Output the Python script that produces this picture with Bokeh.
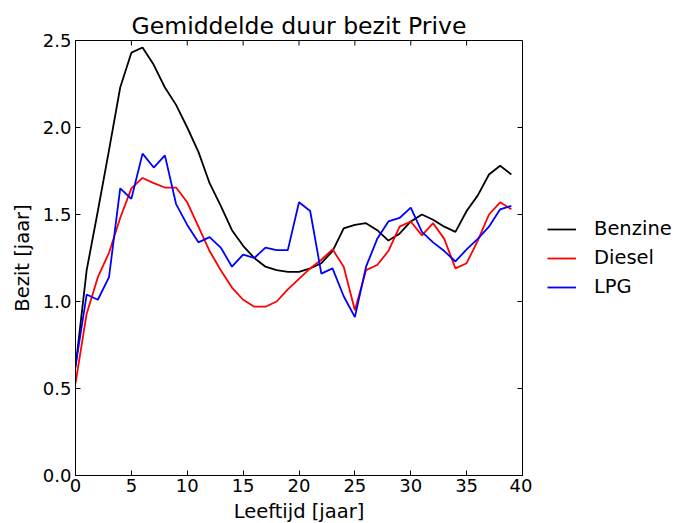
from bokeh.plotting import figure
from bokeh.layouts import row
from bokeh.models import (Range1d, FixedTicker, PrintfTickFormatter,
                          Legend, LegendItem)
from bokeh.embed import file_html
from bokeh.resources import INLINE

# ---- data ----
leeftijd = list(range(40))
benzine = [0.62, 1.18, 1.52, 1.87, 2.23, 2.43, 2.46, 2.36, 2.23, 2.13,
           2.00, 1.86, 1.68, 1.55, 1.41, 1.32, 1.25, 1.20, 1.18, 1.17,
           1.17, 1.19, 1.22, 1.29, 1.42, 1.44, 1.45, 1.41, 1.35, 1.39,
           1.46, 1.50, 1.47, 1.43, 1.40, 1.52, 1.61, 1.73, 1.78, 1.73]
diesel = [0.53, 0.93, 1.14, 1.28, 1.48, 1.65, 1.71, 1.68, 1.655, 1.655,
          1.57, 1.43, 1.29, 1.18, 1.08, 1.01, 0.97, 0.97, 1.00, 1.07,
          1.13, 1.19, 1.24, 1.30, 1.20, 0.95, 1.18, 1.21, 1.29, 1.43,
          1.46, 1.38, 1.45, 1.36, 1.19, 1.22, 1.35, 1.50, 1.57, 1.53]
lpg = [0.63, 1.04, 1.01, 1.14, 1.65, 1.59, 1.85, 1.77, 1.84, 1.56,
       1.44, 1.34, 1.37, 1.31, 1.20, 1.27, 1.25, 1.31, 1.295, 1.295,
       1.57, 1.52, 1.16, 1.19, 1.03, 0.91, 1.20, 1.36, 1.46, 1.48,
       1.54, 1.40, 1.34, 1.29, 1.23, 1.30, 1.36, 1.43, 1.53, 1.55]
series_names = ["Benzine", "Diesel", "LPG"]
series_colors = ["#000000", "#ff0000", "#0000ff"]
x_ticks = [0, 5, 10, 15, 20, 25, 30, 35, 40]
y_ticks = [0.0, 0.5, 1.0, 1.5, 2.0, 2.5]

FONT = "DejaVu Sans"
TICK_FS = "18px"
LABEL_FS = "19.5px"
FW, FH = 447, 435
X0, X1, Y0, Y1 = 0, 40, 0, 2.5
TOTAL_H = 523
MAIN_W = 532
LEG_W = 144

p = figure(frame_width=FW, frame_height=FH,
           x_range=Range1d(X0, X1), y_range=Range1d(Y0, Y1),
           output_backend="svg", toolbar_location=None,
           title="Gemiddelde duur bezit Prive",
           x_axis_label="Leeftijd [jaar]", y_axis_label="Bezit [jaar]",
           min_border_left=75, min_border_top=40, min_border_bottom=48,
           min_border_right=MAIN_W - 75 - FW)

p.title.text_font = FONT
p.title.text_font_size = "23.5px"
p.title.text_font_style = "normal"
p.title.text_color = "black"
p.title.align = "center"
p.title.standoff = 1

p.xgrid.visible = False
p.ygrid.visible = False
p.outline_line_color = "black"
p.outline_line_width = 1
p.background_fill_color = "white"
p.border_fill_color = "white"

p.xaxis.ticker = FixedTicker(ticks=x_ticks)
p.yaxis.ticker = FixedTicker(ticks=y_ticks)
p.yaxis.formatter = PrintfTickFormatter(format="%.1f")

for ax in [p.xaxis[0], p.yaxis[0]]:
    ax.major_tick_in = 5
    ax.major_tick_out = 0
    ax.minor_tick_in = 0
    ax.minor_tick_out = 0
    ax.major_label_text_font = FONT
    ax.major_label_text_font_size = TICK_FS
    ax.major_label_text_color = "black"
    ax.axis_label_text_font = FONT
    ax.axis_label_text_font_size = LABEL_FS
    ax.axis_label_text_font_style = "normal"
    ax.axis_label_text_color = "black"
    ax.axis_line_color = "black"
    ax.major_tick_line_color = "black"

p.xaxis.major_label_standoff = 3
p.xaxis.axis_label_standoff = 5
p.yaxis.major_label_standoff = 4
p.yaxis.axis_label_standoff = 6

# inward ticks on top and right edges (matplotlib classic look)
tick_px = 5
dy = tick_px * (Y1 - Y0) / FH
dx = tick_px * (X1 - X0) / FW
p.segment(x0=x_ticks, y0=[Y1] * len(x_ticks), x1=x_ticks, y1=[Y1 - dy] * len(x_ticks),
          line_color="black", line_width=1)
p.segment(x0=[X1] * len(y_ticks), y0=y_ticks, x1=[X1 - dx] * len(y_ticks), y1=y_ticks,
          line_color="black", line_width=1)

for name, ys, col in zip(series_names, [benzine, diesel, lpg], series_colors):
    p.line(leeftijd, ys, line_color=col, line_width=1.8)

# ---- legend panel (separate figure to the right) ----
lf = figure(width=LEG_W, height=TOTAL_H, x_range=Range1d(0, 1), y_range=Range1d(0, 1),
            output_backend="svg", toolbar_location=None,
            x_axis_type=None, y_axis_type=None,
            min_border_left=0, min_border_right=0, min_border_top=0, min_border_bottom=0)
lf.outline_line_color = None
lf.xgrid.visible = False
lf.ygrid.visible = False
lf.background_fill_color = "white"
lf.border_fill_color = "white"

nan = float("nan")
items = []
for name, col in zip(series_names, series_colors):
    r = lf.line([nan], [nan], line_color=col, line_width=1.8)
    items.append(LegendItem(label=name, renderers=[r]))

legend = Legend(items=items, location=(15, 175))
legend.border_line_alpha = 0
legend.background_fill_alpha = 0
legend.label_text_font = FONT
legend.label_text_font_size = LABEL_FS
legend.label_text_color = "black"
legend.glyph_width = 29
legend.glyph_height = 22
legend.label_height = 22
legend.spacing = 6
legend.label_standoff = 18
legend.padding = 0
legend.margin = 0
lf.add_layout(legend, "center")

layout = row(p, lf, spacing=0)
open("out.html", "w").write(file_html(layout, INLINE))
